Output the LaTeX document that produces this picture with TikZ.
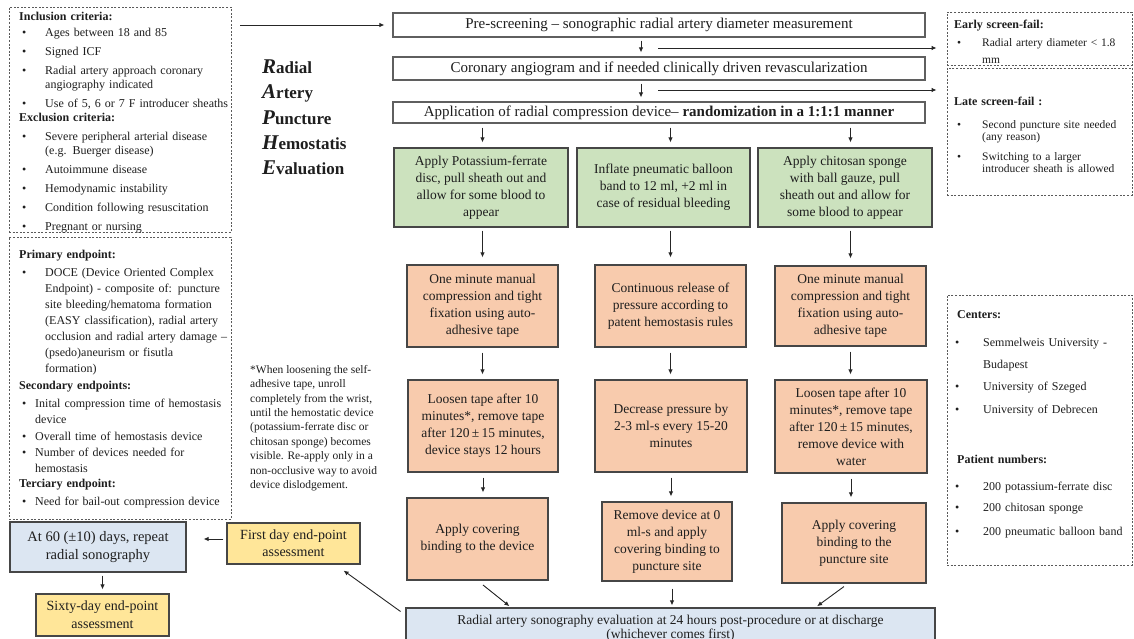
\documentclass[tikz,border=0pt]{standalone}
\usepackage{fontspec}
\setmainfont{Liberation Serif}
\usetikzlibrary{arrows.meta}
\definecolor{gfill}{RGB}{204,226,190}
\definecolor{ofill}{RGB}{248,203,173}
\definecolor{bfill}{RGB}{220,230,242}
\definecolor{yfill}{RGB}{255,230,153}
\definecolor{bordc}{RGB}{70,70,70}
\definecolor{topc}{RGB}{95,95,95}
\definecolor{dashc}{RGB}{90,90,90}
\definecolor{txtc}{RGB}{30,30,30}
\newcommand\myfs[2]{\fontsize{#1}{#2}\selectfont}
\newcommand\lnb{\newline}
\newcommand\bitem[3]{\par\vspace{#1}\hangindent=#2\hangafter=1\noindent\makebox[#2][l]{\hspace{3pt}\textbullet}#3\par}
\newcommand\bhead[2]{\par\vspace{#1}\noindent\textbf{#2}}
\newcommand\ttl[2]{{\myfs{21}{21}\bfseries\itshape #1}{\myfs{17}{17}\bfseries #2}}
\begin{document}
\begin{tikzpicture}[x=1pt,y=-1pt,
  every node/.style={text=txtc},
  flow/.style={draw=bordc,line width=1.2pt,align=center,inner sep=1pt,font=\myfs{13.5}{17}},
  topbox/.style={draw=topc,line width=1.1pt,fill=white,inner sep=0pt,font=\myfs{15}{16}},
  dbox/.style={draw=dashc,line width=0.9pt,dash pattern=on 2pt off 1.6pt,inner sep=0pt},
  panel/.style={anchor=north west,inner sep=0pt,align=left},
  arr/.style={draw=black!85,line width=0.9pt,-{Latex[length=5pt,width=4.5pt]}},
]
\useasboundingbox[fill=white] (0,0) rectangle (1134,639);

% ---------- left panels ----------
\node[dbox,minimum width=222pt,minimum height=225pt] (box1) at (120,119.5) {};
\node[dbox,minimum width=222pt,minimum height=282pt] (box2) at (120,378) {};
\node[panel,text width=220pt,font=\myfs{12}{14}] (t1) at (19,12) {%
\noindent\textbf{Inclusion criteria:}
\bitem{2pt}{26pt}{Ages between 18 and 85}
\bitem{5pt}{26pt}{Signed ICF}
\bitem{5pt}{26pt}{Radial artery approach coronary\lnb angiography indicated}
\bitem{5pt}{26pt}{Use of 5, 6 or 7 F introducer sheaths}
\bhead{0pt}{Exclusion criteria:}
\bitem{5pt}{26pt}{Severe peripheral arterial disease\lnb (e.g. Buerger disease)}
\bitem{5pt}{26pt}{Autoimmune disease}
\bitem{5pt}{26pt}{Hemodynamic instability}
\bitem{5pt}{26pt}{Condition following resuscitation}
\bitem{5pt}{26pt}{Pregnant or nursing}};
\node[panel,text width=220pt,font=\myfs{12}{16}] (t2) at (19,250) {%
\noindent\textbf{Primary endpoint:}
\bitem{2pt}{26pt}{DOCE (Device Oriented Complex\lnb Endpoint) - composite of: puncture\lnb site bleeding/hematoma formation\lnb (EASY classification), radial artery\lnb occlusion and radial artery damage --\lnb (psedo)aneurism or fisutla\lnb formation)}
\bhead{1pt}{Secondary endpoints:}
\bitem{2pt}{16pt}{Inital compression time of hemostasis\lnb device}
\bitem{1pt}{16pt}{Overall time of hemostasis device}
\bitem{0pt}{16pt}{Number of devices needed for\lnb\vadjust{\vskip-2pt}hemostasis}
\bhead{1pt}{Terciary endpoint:}
\bitem{2pt}{16pt}{Need for bail-out compression device}};

% ---------- title ----------
\node[anchor=base west,inner sep=0pt] (tR) at (262,74) {\ttl{R}{adial}};
\node[anchor=base west,inner sep=0pt] (tA) at (262,99) {\ttl{A}{rtery}};
\node[anchor=base west,inner sep=0pt] (tP) at (262,124.5) {\ttl{P}{uncture}};
\node[anchor=base west,inner sep=0pt] (tH) at (262,150) {\ttl{H}{emostatis}};
\node[anchor=base west,inner sep=0pt] (tE) at (262,175) {\ttl{E}{valuation}};

% ---------- top flow ----------
\node[topbox,minimum width=532pt,minimum height=24pt] (pre) at (659,25) {Pre-screening -- sonographic radial artery diameter measurement};
\node[topbox,minimum width=532pt,minimum height=23pt] (cor) at (659,68.5) {Coronary angiogram and if needed clinically driven revascularization};
\node[topbox,minimum width=532pt,minimum height=21pt] (app) at (659,112.5) {Application of radial compression device-- \textbf{randomization in a 1:1:1 manner}};

% ---------- green ----------
\node[flow,fill=gfill,minimum width=174pt,minimum height=79pt] (g1) at (481,187.5) {Apply Potassium-ferrate\\disc, pull sheath out and\\allow for some blood to\\appear};
\node[flow,fill=gfill,minimum width=173pt,minimum height=79pt] (g2) at (663.5,187.5) {Inflate pneumatic balloon\\band to 12 ml, +2 ml in\\case of residual bleeding};
\node[flow,fill=gfill,minimum width=174pt,minimum height=79pt] (g3) at (845,187.5) {Apply chitosan sponge\\with ball gauze, pull\\sheath out and allow for\\some blood to appear};

% ---------- orange rows ----------
\node[flow,fill=ofill,minimum width=151pt,minimum height=82pt] (o11) at (482.5,306) {One minute manual\\compression and tight\\fixation using auto-\\adhesive tape};
\node[flow,fill=ofill,minimum width=151pt,minimum height=82pt] (o12) at (670.5,306) {Continuous release of\\pressure according to\\patent hemostasis rules};
\node[flow,fill=ofill,minimum width=151pt,minimum height=80pt] (o13) at (850.5,306) {One minute manual\\compression and tight\\fixation using auto-\\adhesive tape};

\node[flow,fill=ofill,minimum width=150pt,minimum height=92pt] (o21) at (483,426) {Loosen tape after 10\\minutes*, remove tape\\after 120\,±\,15 minutes,\\device stays 12 hours};
\node[flow,fill=ofill,minimum width=152pt,minimum height=92pt] (o22) at (671,426) {Decrease pressure by\\2-3 ml-s every 15-20\\minutes};
\node[flow,fill=ofill,minimum width=152pt,minimum height=93pt] (o23) at (851,426.5) {Loosen tape after 10\\minutes*, remove tape\\after 120\,±\,15 minutes,\\remove device with\\water};

\node[flow,fill=ofill,minimum width=141pt,minimum height=82pt] (o31) at (477.5,539) {Apply covering\\binding to the device};
\node[flow,fill=ofill,minimum width=130pt,minimum height=79pt] (o32) at (667,541.5) {Remove device at 0\\ml-s and apply\\covering binding to\\puncture site};
\node[flow,fill=ofill,minimum width=144pt,minimum height=80pt] (o33) at (854,543) {Apply covering\\binding to the\\puncture site};

% ---------- bottom ----------
\node[flow,fill=bfill,minimum width=529pt,minimum height=40pt,font=\myfs{13.5}{13.5}] (bb) at (670.5,628) {Radial artery sonography evaluation at 24 hours post-procedure or at discharge\\(whichever comes first)};
\node[flow,fill=bfill,minimum width=176pt,minimum height=50pt,font=\myfs{14.5}{18}] (b60) at (98,547) {At 60 (±10) days, repeat\\radial sonography};
\node[flow,fill=yfill,minimum width=133pt,minimum height=41pt,font=\myfs{14}{17}] (y1) at (293.5,543.5) {First day end-point\\assessment};
\node[flow,fill=yfill,minimum width=133pt,minimum height=42pt,font=\myfs{14}{18}] (s60) at (102.5,615) {Sixty-day end-point\\assessment};

% ---------- footnote ----------
\node[panel,font=\myfs{11.5}{14.4}] (fn) at (250,365) {*When loosening the self-\\adhesive tape, unroll\\completely from the wrist,\\until the hemostatic device\\(potassium-ferrate disc or\\chitosan sponge) becomes\\visible. Re-apply only in a\\non-occlusive way to avoid\\device dislodgement.};

% ---------- right panels ----------
\node[dbox,minimum width=185pt,minimum height=53pt] (early) at (1039.5,38.5) {};
\node[dbox,minimum width=185pt,minimum height=127pt] (late) at (1039.5,131.5) {};
\node[dbox,minimum width=185pt,minimum height=270pt] (centers) at (1039.5,430) {};
\node[panel,text width=175pt,font=\myfs{11.5}{17}] (te) at (954,20) {%
\noindent{\myfs{12}{17}\textbf{Early screen-fail:}}
\bitem{1pt}{28pt}{Radial artery diameter < 1.8\lnb mm}};
\node[panel,text width=175pt,font=\myfs{11.5}{12}] (tl) at (954,97) {%
\noindent{\myfs{12}{12}\textbf{Late screen-fail :}}
\bitem{11pt}{28pt}{Second puncture site needed\lnb (any reason)}
\bitem{8pt}{28pt}{Switching to a larger\lnb introducer sheath is allowed}};
\node[panel,text width=175pt,font=\myfs{12}{22}] (tc) at (952,310) {%
\noindent\hspace{5pt}\textbf{Centers:}
\bitem{6pt}{31pt}{Semmelweis University -\lnb Budapest}
\bitem{0pt}{31pt}{University of Szeged}
\bitem{1pt}{31pt}{University of Debrecen}
\par\vspace{28pt}\noindent\hspace{5pt}\textbf{Patient numbers:}
\bitem{5pt}{31pt}{200 potassium-ferrate disc}
\bitem{-1pt}{31pt}{200 chitosan sponge}
\bitem{2pt}{31pt}{200 pneumatic balloon band}};

% ---------- connectors ----------
\coordinate (a0) at ([xshift=9pt]box1.east);
\draw[arr,shorten >=8pt] (a0 |- pre.west) -- (pre.west);
\draw[arr,shorten <=3pt,shorten >=4pt] ([xshift=-18pt]pre.south) -- ([xshift=-18pt]cor.north);
\draw[arr,shorten <=3pt,shorten >=4pt] ([xshift=-18pt]cor.south) -- ([xshift=-18pt]app.north);
\coordinate (r1) at (658,48);
\coordinate (r2) at (658,90);
\draw[arr,shorten >=10pt] (r1) -- (r1 -| early.west);
\draw[arr,shorten >=10pt] (r2) -- (r2 -| late.west);
\foreach \g/\o in {g1/o11,g2/o12,g3/o13}{
  \draw[arr,shorten <=4pt,shorten >=5pt] (\o.north |- app.south) -- (\o.north |- \g.north);
  \draw[arr,shorten <=3pt,shorten >=7pt] (\o.north |- \g.south) -- (\o.north);
}
\foreach \a/\b in {o11/o21,o12/o22,o13/o23,o21/o31,o22/o32,o23/o33}{
  \draw[arr,shorten <=5pt,shorten >=5pt] (\a.south) -- (\a.south |- \b.north);
}
\draw[arr,shorten <=7pt,shorten >=2pt] (o31.south) -- ([xshift=-159.5pt]bb.north);
\draw[arr,shorten <=7pt,shorten >=2pt] ([xshift=5pt]o32.south) -- ([xshift=5pt]o32.south |- bb.north);
\draw[arr,shorten <=5pt,shorten >=2pt] ([xshift=-6pt]o33.south) -- ([xshift=145pt]bb.north);
\coordinate (bw) at ([yshift=13pt]bb.west);
\draw[arr,shorten <=6pt] (bw) -- ([xshift=-17pt,yshift=-6pt]y1.south east);
\coordinate (ya) at ([yshift=4.5pt]y1.west);
\draw[arr,shorten <=3pt,shorten >=17pt] (ya) -- (ya -| b60.east);
\draw[arr,shorten <=3pt,shorten >=4pt] (s60.north |- b60.south) -- (s60.north);
\end{tikzpicture}
\end{document}
